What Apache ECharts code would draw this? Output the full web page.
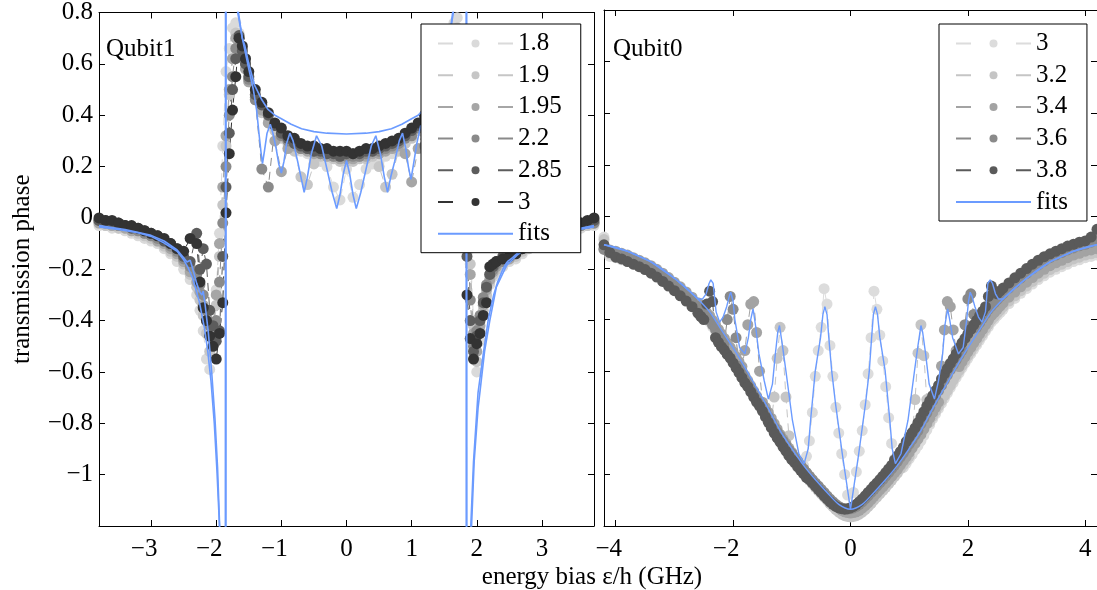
<!DOCTYPE html>
<html><head><meta charset="utf-8">
<script src="https://cdn.jsdelivr.net/npm/echarts@6.0.0/dist/echarts.min.js"></script>
<style>html,body{margin:0;padding:0;background:#fff}#c{width:1097px;height:590px}</style>
</head><body><div id="c"></div><script>
// ---------- Qubit1 (left panel) ----------
const xL = [-3.8,-3.7,-3.6,-3.5,-3.4,-3.3,-3.2,-3.1,-3.0,-2.9,-2.8,-2.7,-2.6,-2.5,-2.4,-2.3,
 -2.25,-2.2,-2.15,-2.1,-2.05,-2.0,-1.95,-1.9,-1.85,-1.8,-1.75,-1.7,-1.65,-1.6,-1.55,
 -1.5,-1.4,-1.3,-1.2,-1.1,-1.0,-0.9,-0.8,-0.7,-0.6,-0.5,-0.4,-0.3,-0.2,-0.1,0,0.1,0.2,0.3,0.4,0.5,0.6,0.7,0.8,0.9,1.0,1.1,1.2,1.3,1.4,1.5,
 1.55,1.6,1.65,1.7,1.75,1.8,1.85,1.9,1.95,2.0,2.05,2.1,2.15,2.2,2.25,
 2.3,2.4,2.5,2.6,2.7,2.8,2.9,3.0,3.1,3.2,3.3,3.4,3.5,3.6,3.7,3.8];
const y18L = [-0.03,-0.03,-0.04,-0.04,-0.05,-0.06,-0.07,-0.08,-0.09,-0.10,-0.12,-0.14,-0.17,-0.20,-0.24,-0.30,
 -0.36,-0.44,-0.55,-0.59,-0.45,-0.28,-0.06,0.28,0.57,0.66,0.74,0.76,0.72,0.66,0.60,
 0.55,0.48,0.43,0.39,0.35,0.32,0.30,0.28,0.26,0.25,0.23,0.22,0.20,0.12,0.07,0.19,0.08,0.13,0.19,0.21,0.22,0.24,0.25,0.27,0.29,0.32,0.35,0.39,0.43,0.48,0.55,
 0.62,0.70,0.76,0.78,0.72,0.55,0.25,-0.12,-0.40,-0.60,-0.48,-0.38,-0.31,-0.26,-0.23,
 -0.21,-0.19,-0.17,-0.16,-0.14,-0.12,-0.11,-0.10,-0.09,-0.07,-0.06,-0.05,-0.05,-0.04,-0.03,-0.03];
const y19L = [-0.02,-0.03,-0.03,-0.04,-0.04,-0.05,-0.06,-0.07,-0.08,-0.09,-0.11,-0.13,-0.15,-0.18,-0.22,-0.27,
 -0.32,-0.38,-0.45,-0.52,-0.48,-0.34,-0.15,0.05,0.28,0.48,0.62,0.72,0.70,0.64,0.58,
 0.53,0.46,0.41,0.37,0.34,0.31,0.29,0.26,0.16,0.13,0.21,0.24,0.24,0.23,0.22,0.22,0.22,0.23,0.23,0.24,0.20,0.12,0.17,0.26,0.29,0.31,0.34,0.37,0.41,0.46,0.52,
 0.58,0.64,0.70,0.74,0.66,0.45,0.15,-0.18,-0.42,-0.56,-0.44,-0.36,-0.30,-0.25,-0.22,
 -0.20,-0.18,-0.16,-0.15,-0.13,-0.12,-0.10,-0.09,-0.08,-0.07,-0.06,-0.05,-0.04,-0.03,-0.03,-0.02];
const y195L = [-0.02,-0.02,-0.03,-0.03,-0.04,-0.05,-0.05,-0.06,-0.07,-0.09,-0.10,-0.12,-0.14,-0.17,-0.21,-0.25,
 -0.29,-0.34,-0.40,-0.46,-0.43,-0.30,-0.10,0.12,0.32,0.50,0.62,0.70,0.68,0.63,0.58,
 0.53,0.47,0.42,0.37,0.30,0.18,0.27,0.28,0.27,0.26,0.25,0.25,0.24,0.24,0.23,0.23,0.23,0.24,0.24,0.25,0.25,0.26,0.27,0.28,0.25,0.14,0.27,0.36,0.41,0.46,0.52,
 0.57,0.63,0.68,0.72,0.62,0.40,0.10,-0.22,-0.45,-0.52,-0.42,-0.34,-0.28,-0.24,-0.21,
 -0.19,-0.17,-0.16,-0.14,-0.12,-0.11,-0.10,-0.08,-0.07,-0.06,-0.05,-0.04,-0.04,-0.03,-0.02,-0.02];
const y22L = [-0.01,-0.02,-0.02,-0.03,-0.03,-0.04,-0.05,-0.06,-0.07,-0.08,-0.09,-0.11,-0.13,-0.16,-0.19,-0.22,
 -0.26,-0.30,-0.36,-0.42,-0.47,-0.40,-0.25,-0.02,0.20,0.40,0.55,0.66,0.70,0.66,0.60,
 0.54,0.46,0.19,0.12,0.36,0.32,0.30,0.29,0.27,0.27,0.26,0.25,0.25,0.24,0.24,0.24,0.24,0.24,0.25,0.26,0.26,0.27,0.28,0.29,0.31,0.32,0.35,0.28,0.18,0.42,0.52,
 0.58,0.65,0.70,0.68,0.55,0.30,0.0,-0.32,-0.50,-0.44,-0.38,-0.31,-0.26,-0.22,-0.20,
 -0.18,-0.17,-0.15,-0.13,-0.12,-0.10,-0.09,-0.08,-0.07,-0.06,-0.05,-0.04,-0.03,-0.03,-0.02,-0.02];
const y285L = [-0.01,-0.01,-0.02,-0.02,-0.03,-0.04,-0.04,-0.05,-0.06,-0.07,-0.09,-0.10,-0.12,-0.15,-0.17,-0.06,
 -0.20,-0.12,-0.18,-0.36,-0.42,-0.48,-0.44,-0.15,0.12,0.33,0.50,0.62,0.71,0.65,0.60,
 0.55,0.48,0.44,0.40,0.36,0.33,0.31,0.29,0.28,0.27,0.26,0.26,0.25,0.25,0.24,0.25,0.25,0.25,0.26,0.26,0.27,0.28,0.29,0.30,0.32,0.34,0.36,0.39,0.43,0.48,0.54,
 0.60,0.66,0.72,0.65,0.48,0.20,-0.15,-0.40,-0.52,-0.46,-0.40,-0.33,-0.27,-0.22,-0.19,
 -0.17,-0.15,-0.14,-0.12,-0.11,-0.10,-0.08,-0.07,-0.06,-0.05,-0.05,-0.04,-0.03,-0.02,-0.02,-0.01];
const y30L = [0.0,-0.01,-0.01,-0.02,-0.03,-0.03,-0.04,-0.05,-0.06,-0.07,-0.08,-0.10,-0.12,-0.13,-0.08,-0.10,
 -0.25,-0.35,-0.40,-0.46,-0.50,-0.55,-0.45,-0.33,0.02,0.25,0.42,0.55,0.70,0.67,0.62,
 0.57,0.50,0.45,0.41,0.37,0.35,0.32,0.31,0.29,0.28,0.28,0.27,0.27,0.26,0.26,0.26,0.25,0.26,0.27,0.27,0.28,0.29,0.30,0.31,0.33,0.35,0.37,0.40,0.44,0.49,0.55,
 0.61,0.68,0.72,0.60,0.40,0.12,-0.30,-0.47,-0.55,-0.49,-0.45,-0.38,-0.33,-0.19,-0.18,
 -0.17,-0.16,-0.15,-0.14,-0.12,-0.10,-0.09,-0.08,-0.07,-0.06,-0.05,-0.04,-0.03,-0.02,-0.01,0.0];
const fitL1 = [[-3.8,-0.035],[-3.5,-0.045],[-3.2,-0.058],[-3.0,-0.072],[-2.8,-0.098],[-2.6,-0.13],[-2.5,-0.163],[-2.43,-0.195],[-2.36,-0.236],[-2.26,-0.326],[-2.18,-0.43],[-2.13,-0.52],[-2.08,-0.637],[-2.03,-0.80],[-1.99,-0.98],[-1.95,-1.2],[-1.91,-1.6],[-1.862,-3],
 [-1.855,3],[-1.78,1.5],[-1.72,1.02],[-1.67,0.8],[-1.6,0.70],[-1.56,0.67],[-1.5,0.60],[-1.41,0.516],[-1.3,0.46],[-1.21,0.424],[-1.1,0.40],[-1.0,0.386],[-0.85,0.365],[-0.69,0.347],[-0.5,0.336],[-0.3,0.33],[0,0.327],
 [0.3,0.33],[0.5,0.336],[0.69,0.347],[0.85,0.365],[1.0,0.386],[1.1,0.40],[1.2,0.424],[1.3,0.46],[1.4,0.516],[1.48,0.59],[1.54,0.65],[1.58,0.70],[1.64,0.8],[1.69,1.0],[1.76,1.5],[1.843,3],
 [1.85,-3],[1.88,-1.7],[1.92,-1.2],[1.96,-0.95],[2.02,-0.74],[2.05,-0.676],[2.12,-0.52],[2.2,-0.40],[2.3,-0.27],[2.46,-0.184],[2.62,-0.145],[2.8,-0.11],[3.0,-0.085],[3.2,-0.065],[3.5,-0.048],[3.8,-0.035]];
const fitL2 = [[-3.8,-0.03],[-3.4,-0.045],[-3.0,-0.068],[-2.8,-0.09],[-2.6,-0.125],[-2.5,-0.155],[-2.45,-0.172],[-2.42,-0.178],[-2.40,-0.165],[-2.37,-0.19],[-2.3,-0.255],[-2.25,-0.29],[-2.22,-0.30],[-2.2,-0.285],[-2.17,-0.34],[-2.12,-0.45],[-2.07,-0.60],[-2.02,-0.78],[-1.98,-0.97],[-1.945,-1.22],[-1.9,-1.7],[-1.852,-3],
 [-1.848,3],[-1.77,1.45],[-1.71,1.0],[-1.665,0.81],[-1.6,0.70],[-1.5,0.58],[-1.43,0.50],[-1.38,0.42],[-1.34,0.32],[-1.31,0.25],[-1.29,0.211],[-1.26,0.26],[-1.22,0.33],[-1.17,0.365],[-1.13,0.33],[-1.08,0.27],[-1.04,0.21],[-1.0,0.175],[-0.96,0.22],[-0.92,0.29],[-0.87,0.33],[-0.82,0.30],[-0.75,0.22],[-0.70,0.16],[-0.65,0.10],[-0.60,0.16],[-0.54,0.25],[-0.46,0.32],[-0.38,0.28],[-0.30,0.19],[-0.22,0.10],[-0.15,0.036],[-0.10,0.09],[-0.05,0.17],[0,0.224],
 [0.05,0.17],[0.10,0.09],[0.15,0.036],[0.22,0.10],[0.30,0.19],[0.38,0.28],[0.45,0.32],[0.52,0.25],[0.58,0.16],[0.63,0.10],[0.68,0.16],[0.74,0.22],[0.81,0.30],[0.86,0.33],[0.91,0.27],[0.95,0.20],[0.99,0.15],[1.03,0.21],[1.08,0.29],[1.14,0.36],[1.19,0.32],[1.23,0.26],[1.27,0.22],[1.31,0.28],[1.36,0.40],[1.42,0.50],[1.5,0.60],[1.58,0.70],[1.64,0.82],[1.7,1.0],[1.77,1.5],[1.836,3],
 [1.84,-3],[1.87,-1.8],[1.9,-1.25],[1.95,-0.95],[2.02,-0.68],[2.1,-0.53],[2.18,-0.39],[2.26,-0.30],[2.32,-0.25],[2.4,-0.2],[2.45,-0.178],[2.48,-0.168],[2.5,-0.172],[2.55,-0.155],[2.7,-0.12],[3.0,-0.08],[3.4,-0.05],[3.8,-0.03]];

// ---------- Qubit0 (right panel) ----------
const xR = [-4.2,-4.1,-4.0,-3.9,-3.8,-3.7,-3.6,-3.5,-3.4,-3.3,-3.2,-3.1,-3.0,-2.9,-2.8,-2.7,
 -2.6,-2.55,-2.5,-2.45,-2.4,-2.35,-2.3,-2.25,-2.2,-2.15,-2.1,-2.05,-2.0,-1.95,-1.9,-1.85,-1.8,-1.75,-1.7,-1.65,-1.6,-1.55,-1.5,-1.45,-1.4,-1.35,-1.3,-1.25,-1.2,-1.15,-1.1,-1.05,-1.0,-0.95,-0.9,-0.85,-0.8,-0.75,-0.7,-0.65,-0.6,-0.55,-0.5,-0.45,-0.4,-0.35,-0.3,-0.25,-0.2,-0.15,-0.1,-0.05,
 0,
 0.05,0.1,0.15,0.2,0.25,0.3,0.35,0.4,0.45,0.5,0.55,0.6,0.65,0.7,0.75,0.8,0.85,0.9,0.95,1.0,1.05,1.1,1.15,1.2,1.25,1.3,1.35,1.4,1.45,1.5,1.55,1.6,1.65,1.7,1.75,1.8,1.85,1.9,1.95,2.0,2.05,2.1,2.15,2.2,2.25,2.3,2.35,2.4,2.45,2.5,2.55,2.6,
 2.7,2.8,2.9,3.0,3.1,3.2,3.3,3.4,3.5,3.6,3.7,3.8,3.9,4.0,4.1,4.2];
const y30R = [-0.08,-0.155,-0.16,-0.168,-0.175,-0.185,-0.195,-0.205,-0.216,-0.23,-0.245,-0.262,-0.28,-0.298,-0.318,-0.338,
 -0.36,-0.373,-0.385,-0.398,-0.41,-0.428,-0.445,-0.463,-0.48,-0.498,-0.515,-0.533,-0.55,-0.569,-0.588,-0.607,-0.625,-0.645,-0.665,-0.685,-0.705,-0.725,-0.745,-0.765,-0.785,-0.807,-0.828,-0.849,-0.87,-0.888,-0.905,-0.923,-0.94,-0.957,-0.973,-0.95,-0.965,-0.93,-0.87,-0.76,-0.62,-0.52,-0.43,-0.28,-0.34,-0.50,-0.62,-0.74,-0.84,-0.92,-1.0,-1.08,
 -1.14,
 -1.07,-0.99,-0.91,-0.83,-0.73,-0.61,-0.47,-0.29,-0.36,-0.46,-0.56,-0.66,-0.78,-0.88,-0.94,-0.96,-0.95,-0.973,-0.957,-0.94,-0.923,-0.905,-0.888,-0.87,-0.849,-0.828,-0.807,-0.785,-0.765,-0.745,-0.725,-0.705,-0.685,-0.665,-0.645,-0.625,-0.607,-0.588,-0.569,-0.55,-0.533,-0.515,-0.498,-0.48,-0.463,-0.445,-0.428,-0.41,-0.398,-0.385,-0.373,-0.36,
 -0.338,-0.318,-0.298,-0.28,-0.262,-0.245,-0.23,-0.216,-0.205,-0.195,-0.185,-0.175,-0.168,-0.16,-0.155,-0.15];
const y32R = [-0.09,-0.145,-0.15,-0.158,-0.165,-0.175,-0.185,-0.195,-0.206,-0.22,-0.235,-0.252,-0.27,-0.288,-0.308,-0.328,
 -0.35,-0.363,-0.375,-0.388,-0.40,-0.418,-0.435,-0.453,-0.47,-0.488,-0.505,-0.523,-0.54,-0.559,-0.578,-0.597,-0.615,-0.635,-0.655,-0.675,-0.695,-0.715,-0.735,-0.755,-0.775,-0.797,-0.70,-0.55,-0.43,-0.52,-0.70,-0.85,-0.93,-0.947,-0.963,-0.979,-0.995,-1.009,-1.023,-1.037,-1.05,-1.063,-1.075,-1.088,-1.10,-1.113,-1.125,-1.136,-1.146,-1.154,-1.16,-1.163,
 -1.165,
 -1.163,-1.16,-1.154,-1.146,-1.136,-1.125,-1.113,-1.10,-1.088,-1.075,-1.063,-1.05,-1.037,-1.023,-1.009,-0.995,-0.979,-0.963,-0.947,-0.93,-0.86,-0.71,-0.53,-0.42,-0.54,-0.71,-0.797,-0.775,-0.755,-0.735,-0.715,-0.695,-0.675,-0.655,-0.635,-0.615,-0.597,-0.578,-0.559,-0.54,-0.523,-0.505,-0.488,-0.47,-0.453,-0.435,-0.418,-0.40,-0.388,-0.375,-0.363,-0.35,
 -0.328,-0.308,-0.288,-0.27,-0.252,-0.235,-0.22,-0.206,-0.195,-0.185,-0.175,-0.165,-0.158,-0.15,-0.145,-0.14];
const y34R = [-0.125,-0.13,-0.135,-0.143,-0.15,-0.16,-0.17,-0.18,-0.191,-0.205,-0.22,-0.237,-0.255,-0.273,-0.293,-0.313,
 -0.335,-0.348,-0.36,-0.373,-0.385,-0.403,-0.42,-0.438,-0.455,-0.473,-0.49,-0.508,-0.525,-0.544,-0.563,-0.582,-0.52,-0.42,-0.34,-0.33,-0.45,-0.60,-0.72,-0.74,-0.76,-0.782,-0.803,-0.824,-0.845,-0.863,-0.88,-0.898,-0.915,-0.932,-0.948,-0.964,-0.98,-0.994,-1.008,-1.022,-1.035,-1.048,-1.06,-1.073,-1.085,-1.098,-1.11,-1.121,-1.131,-1.139,-1.145,-1.148,
 -1.15,
 -1.148,-1.145,-1.139,-1.131,-1.121,-1.11,-1.098,-1.085,-1.073,-1.06,-1.048,-1.035,-1.022,-1.008,-0.994,-0.98,-0.964,-0.948,-0.932,-0.915,-0.898,-0.88,-0.863,-0.845,-0.824,-0.803,-0.782,-0.76,-0.74,-0.72,-0.58,-0.44,-0.33,-0.35,-0.44,-0.52,-0.582,-0.563,-0.544,-0.525,-0.508,-0.49,-0.473,-0.455,-0.438,-0.42,-0.403,-0.385,-0.373,-0.36,-0.348,-0.335,
 -0.313,-0.293,-0.273,-0.255,-0.237,-0.22,-0.205,-0.191,-0.18,-0.17,-0.16,-0.15,-0.143,-0.135,-0.13,-0.125];
const y36R = [-0.128,-0.133,-0.139,-0.147,-0.155,-0.165,-0.175,-0.185,-0.198,-0.213,-0.228,-0.246,-0.264,-0.283,-0.303,-0.324,
 -0.348,-0.36,-0.373,-0.385,-0.403,-0.42,-0.438,-0.455,-0.473,-0.49,-0.40,-0.31,-0.36,-0.47,-0.582,-0.60,-0.62,-0.64,-0.66,-0.68,-0.70,-0.72,-0.735,-0.755,-0.777,-0.798,-0.819,-0.835,-0.853,-0.87,-0.888,-0.905,-0.92,-0.935,-0.95,-0.965,-0.979,-0.993,-1.007,-1.02,-1.033,-1.045,-1.058,-1.07,-1.083,-1.095,-1.106,-1.116,-1.124,-1.13,-1.133,-1.135,
 -1.133,
 -1.13,-1.124,-1.116,-1.106,-1.095,-1.083,-1.07,-1.058,-1.045,-1.033,-1.02,-1.007,-0.993,-0.979,-0.965,-0.949,-0.933,-0.917,-0.90,-0.883,-0.865,-0.848,-0.83,-0.804,-0.783,-0.762,-0.74,-0.715,-0.695,-0.675,-0.655,-0.635,-0.615,-0.595,-0.575,-0.557,-0.538,-0.519,-0.42,-0.32,-0.30,-0.38,-0.43,-0.413,-0.395,-0.378,-0.36,-0.348,-0.335,-0.323,-0.31,-0.299,
 -0.278,-0.258,-0.239,-0.221,-0.203,-0.188,-0.173,-0.16,-0.15,-0.14,-0.13,-0.122,-0.114,-0.108,-0.10,-0.09];
const y38R = [-0.11,-0.14,-0.158,-0.165,-0.175,-0.185,-0.195,-0.206,-0.22,-0.235,-0.252,-0.27,-0.288,-0.308,-0.328,-0.35,
 -0.375,-0.388,-0.40,-0.34,-0.29,-0.33,-0.47,-0.488,-0.505,-0.518,-0.535,-0.549,-0.568,-0.587,-0.605,-0.625,-0.645,-0.66,-0.68,-0.70,-0.72,-0.735,-0.755,-0.777,-0.798,-0.819,-0.84,-0.858,-0.875,-0.893,-0.91,-0.927,-0.943,-0.954,-0.97,-0.984,-0.998,-1.012,-1.02,-1.033,-1.045,-1.058,-1.07,-1.083,-1.095,-1.106,-1.116,-1.124,-1.13,-1.133,-1.135,-1.133,
 -1.13,
 -1.124,-1.116,-1.106,-1.095,-1.083,-1.07,-1.058,-1.045,-1.033,-1.02,-1.007,-0.993,-0.979,-0.965,-0.944,-0.928,-0.912,-0.895,-0.873,-0.855,-0.838,-0.82,-0.799,-0.778,-0.757,-0.735,-0.715,-0.695,-0.675,-0.655,-0.63,-0.61,-0.59,-0.57,-0.552,-0.533,-0.509,-0.49,-0.473,-0.455,-0.438,-0.42,-0.403,-0.385,-0.368,-0.35,-0.31,-0.27,-0.29,-0.30,-0.289,-0.278,
 -0.258,-0.238,-0.22,-0.202,-0.185,-0.17,-0.156,-0.145,-0.135,-0.125,-0.115,-0.108,-0.10,-0.095,-0.08,-0.05];
const fitR1 = [[-4.2,-0.11],[-4.0,-0.12],[-3.8,-0.135],[-3.6,-0.155],[-3.4,-0.176],[-3.2,-0.205],[-3.0,-0.24],[-2.8,-0.278],[-2.6,-0.32],[-2.4,-0.37],[-2.2,-0.44],[-2.0,-0.51],[-1.8,-0.585],[-1.6,-0.665],[-1.4,-0.745],[-1.2,-0.83],[-1.0,-0.90],[-0.8,-0.965],[-0.6,-1.02],[-0.4,-1.07],[-0.2,-1.116],[0,-1.135],
 [0.2,-1.116],[0.4,-1.07],[0.6,-1.02],[0.8,-0.965],[1.0,-0.90],[1.2,-0.83],[1.4,-0.745],[1.6,-0.665],[1.8,-0.585],[2.0,-0.51],[2.2,-0.44],[2.4,-0.37],[2.6,-0.32],[2.8,-0.278],[3.0,-0.24],[3.2,-0.205],[3.4,-0.176],[3.6,-0.155],[3.8,-0.135],[4.0,-0.12],[4.2,-0.11]];
const fitR2 = [[-4.2,-0.11],[-3.8,-0.135],[-3.4,-0.176],[-3.0,-0.24],[-2.8,-0.278],[-2.6,-0.32],[-2.52,-0.32],[-2.46,-0.30],[-2.41,-0.26],[-2.38,-0.246],[-2.34,-0.26],[-2.29,-0.37],[-2.23,-0.41],[-2.17,-0.39],[-2.11,-0.35],[-2.06,-0.305],[-2.04,-0.294],[-2.0,-0.33],[-1.97,-0.40],[-1.89,-0.508],[-1.80,-0.533],[-1.74,-0.47],[-1.70,-0.40],[-1.66,-0.358],[-1.62,-0.42],[-1.56,-0.533],[-1.47,-0.637],[-1.40,-0.708],[-1.33,-0.65],[-1.28,-0.533],[-1.24,-0.45],[-1.21,-0.423],[-1.16,-0.50],[-1.10,-0.60],[-0.99,-0.79],[-0.88,-0.92],[-0.79,-0.958],[-0.72,-0.90],[-0.68,-0.79],[-0.60,-0.598],[-0.51,-0.469],[-0.47,-0.38],[-0.437,-0.35],[-0.40,-0.38],[-0.37,-0.469],[-0.32,-0.60],[-0.255,-0.727],[-0.14,-0.92],[-0.03,-1.09],[0,-1.135],
 [0.03,-1.09],[0.14,-0.92],[0.255,-0.727],[0.32,-0.60],[0.36,-0.469],[0.39,-0.38],[0.425,-0.35],[0.46,-0.38],[0.50,-0.469],[0.59,-0.598],[0.67,-0.79],[0.71,-0.90],[0.765,-0.958],[0.86,-0.92],[0.98,-0.79],[1.09,-0.60],[1.15,-0.50],[1.2,-0.423],[1.23,-0.45],[1.28,-0.533],[1.34,-0.65],[1.43,-0.708],[1.5,-0.637],[1.57,-0.533],[1.61,-0.42],[1.655,-0.358],[1.69,-0.40],[1.74,-0.47],[1.84,-0.533],[1.92,-0.508],[1.98,-0.40],[2.01,-0.33],[2.04,-0.294],[2.07,-0.31],[2.12,-0.35],[2.18,-0.39],[2.24,-0.41],[2.3,-0.37],[2.34,-0.26],[2.38,-0.246],[2.42,-0.26],[2.47,-0.30],[2.52,-0.32],[2.6,-0.32],[2.8,-0.278],[3.0,-0.24],[3.4,-0.176],[3.8,-0.135],[4.2,-0.11]];

const leftNames = ['1.8','1.9','1.95','2.2','2.85','3'];
const rightNames = ['3','3.2','3.4','3.6','3.8'];

// ---------- styles ----------
const FONT = 'Liberation Serif';
const BLUE = '#6b9bff';
const leftColors = ['#dadada','#c6c6c6','#a6a6a6','#8a8a8a','#5c5c5c','#333333'];
const rightColors = ['#dcdcdc','#c5c5c5','#a3a3a3','#8a8a8a','#5a5a5a'];

function dataSeries(name, xs, ys, color, idx) {
  return {type:'line', name, xAxisIndex: idx, yAxisIndex: idx,
    data: xs.map((x, i) => [x, ys[i]]),
    symbol:'circle', symbolSize:11, showSymbol:true, showAllSymbol:true,
    lineStyle:{color, width:1, type:[8,6]}, itemStyle:{color, borderWidth:0},
    emphasis:{disabled:true}, z:2};
}
function fitSeries(name, pts, idx, w, smooth) {
  return {type:'line', name, xAxisIndex: idx, yAxisIndex: idx, data: pts,
    symbol:'none', showSymbol:false, smooth: smooth || false,
    lineStyle:{color:BLUE, width:w}, itemStyle:{color:BLUE},
    emphasis:{disabled:true}, z:3};
}
const series = [];
const leftY = [y18L, y19L, y195L, y22L, y285L, y30L];
leftNames.forEach((n, i) => series.push(dataSeries('L' + n, xL, leftY[i], leftColors[i], 0)));
series.push(fitSeries('Lfits', fitL1, 0, 1.6));
series.push(fitSeries('Lfits', fitL2, 0, 1.6));
const rightY = [y30R, y32R, y34R, y36R, y38R];
rightNames.forEach((n, i) => series.push(dataSeries('R' + n, xR, rightY[i], rightColors[i], 2)));
series.push(fitSeries('Rfits', fitR1, 2, 1.4, 0.3));
series.push(fitSeries('Rfits', fitR2, 2, 1.4));

const line = {show:true, onZero:false, lineStyle:{color:'#000', width:1}};
const tick = {show:true, inside:true, length:6, lineStyle:{color:'#000', width:1}};
const noSplit = {show:false};
const minus = s => s.replace('-', '\u2212');
const xLabel = {show:true, fontFamily:FONT, fontSize:25, color:'#000', margin:11,
  showMinLabel:false, showMaxLabel:false,
  formatter: v => v < 0 ? '\u2212' + (-v) + '{p| }' : String(v),
  rich:{p:{width:14, fontSize:25, fontFamily:FONT}}};
function xAx(grid, pos, min, max, split, label) {
  return {type:'value', gridIndex:grid, position:pos, min, max, splitNumber:split,
    axisLine:line, axisTick:tick, splitLine:noSplit, axisLabel: label ? xLabel : {show:false}};
}
function yAx(grid, pos, label) {
  const a = {type:'value', gridIndex:grid, position:pos, min:-1.2, max:0.8, interval:0.2,
    axisLine:line, axisTick:tick, splitLine:noSplit, axisLabel:{show:false}};
  if (label) {
    a.axisLabel = {show:true, fontFamily:FONT, fontSize:25, color:'#000', margin:6, showMinLabel:false,
      formatter: v => minus(String(Math.round(v * 10) / 10))};
    a.name = 'transmission phase'; a.nameLocation = 'middle'; a.nameGap = 64; a.nameRotate = 90;
    a.nameTextStyle = {fontFamily:FONT, fontSize:25, color:'#000'};
  }
  return a;
}
function legendOf(names, prefix, left) {
  const data = names.map(n => prefix + n);
  data.push({name: prefix + 'fits', lineStyle:{type:'solid'}, itemStyle:{opacity:0}});
  return {show:true, orient:'vertical', left, top:24, padding:[7,19,6.5,16], itemGap:6.7,
    itemWidth:75, itemHeight:10, backgroundColor:'#fff', borderColor:'#000', borderWidth:1, borderRadius:0,
    selectedMode:false, data, formatter: n => n.slice(1),
    lineStyle:{type:[15,45]},
    textStyle:{fontFamily:FONT, fontSize:25, color:'#000', lineHeight:25}};
}

const option = {
  animation:false,
  backgroundColor:'#fff',
  grid:[{left:99, top:10, width:495, height:516}, {left:604, top:10, width:494, height:516}],
  xAxis:[xAx(0,'bottom',-3.8,3.8,8,true), xAx(0,'top',-3.8,3.8,8,false),
         xAx(1,'bottom',-4.2,4.2,4,true), xAx(1,'top',-4.2,4.2,4,false)],
  yAxis:[yAx(0,'left',true), yAx(0,'right',false), yAx(1,'left',false), yAx(1,'right',false)],
  legend:[legendOf(leftNames,'L',421), legendOf(rightNames,'R',939)],
  graphic:[
    {type:'text', x:106, y:49, style:{text:'Qubit1', fontFamily:FONT, fontSize:25, fill:'#000', verticalAlign:'middle'}},
    {type:'text', x:613, y:49, style:{text:'Qubit0', fontFamily:FONT, fontSize:25, fill:'#000', verticalAlign:'middle'}},
    {type:'text', x:592, y:577, style:{text:'energy bias \u03b5/h (GHz)', fontFamily:FONT, fontSize:25, fill:'#000', align:'center', verticalAlign:'middle'}}
  ],
  series
};
// series use axis index pairs: left panel -> x0/y0, right panel -> x2/y2
const chart = echarts.init(document.getElementById('c'), null, {renderer:'canvas'});
chart.setOption(option);
</script></body></html>
